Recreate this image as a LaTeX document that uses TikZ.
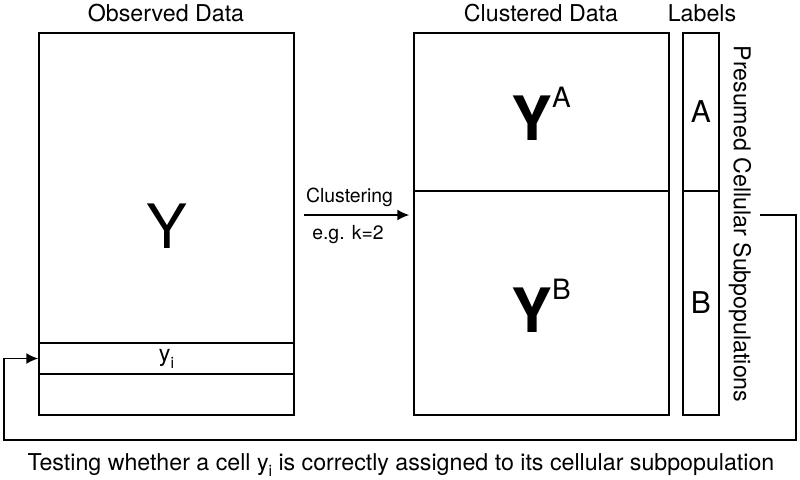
\documentclass[tikz,border=0pt]{standalone}
\usepackage{fontspec}
\setmainfont{TeX Gyre Heros}
\usetikzlibrary{arrows.meta}
\newcommand{\Ysup}[1]{{\bfseries Y}\raisebox{16.5pt}{\fontsize{14}{14}\selectfont #1}}
\newcommand{\lowsub}[1]{\raisebox{-0.3em}{\scalebox{0.68}{#1}}}

\begin{document}
\begin{tikzpicture}[x=0.5pt, y=-0.5pt, font=\fontsize{11.6}{13.9}\selectfont]
%% one unit is one pixel of the 800x479 drawing, y runs downwards
\tikzstyle{arc}=[-{Latex[length=6pt,width=5.5pt]},line width=0.75pt]
\tikzstyle{dataBox}=[draw,line width=0.75pt,inner sep=0pt,minimum width=127.5pt]
\tikzstyle{labelBox}=[draw,line width=0.75pt,inner sep=0pt,minimum width=18pt,font=\fontsize{15}{15}\selectfont]
\tikzstyle{bigY}=[font=\fontsize{30.6}{30.6}\selectfont]
\useasboundingbox (0,0) rectangle (800,479);
%% headings
\node[anchor=base] at (166,21) (obsTitle) {Observed Data};
\node[anchor=base] at (541,21) (clusTitle) {Clustered Data};
\node[anchor=base] at (702,21) (labTitle) {Labels};
%% observed data
\node[dataBox, minimum height=191pt] at (166.5,224) (obs) {};
\node[dataBox, minimum height=15.5pt] at (166.5,358.5) (yi) {y\lowsub{i}};
\node[bigY] at (166.5,226) (Y) {Y};
%% clustered data
\node[dataBox, minimum height=191pt] at (541.5,224) (clus) {};
\draw[line width=1pt] (clus.west |- 0,191) -- (clus.east |- 0,191);
\node[bigY, anchor=base] at (541,140) (YA) {\Ysup{A}};
\node[bigY, anchor=base] at (541,332) (YB) {\Ysup{B}};
%% labels
\node[labelBox, minimum height=79pt] at (701,112) (labA) {A};
\node[labelBox, minimum height=112pt] at (701,303) (labB) {B};
\node[rotate=-90] at (740,224) (presumed) {Presumed Cellular Subpopulations};
%% clustering step
\draw[arc] ([xshift=4.5pt,yshift=4.5pt]obs.east) -- ([xshift=-2pt,yshift=4.5pt]clus.west);
\node[font=\fontsize{9.7}{11}\selectfont] at (349.5,197) (clustering) {Clustering};
\node[font=\fontsize{9.7}{11}\selectfont] at (348,235) (kValue) {e.g. k=2};
%% feedback to the single cell
\coordinate (fbStart) at (760,215);
\coordinate (fbCorner) at (796,440);
\coordinate (fbLeft) at (4,440);
\draw[arc] (fbStart) -| (fbCorner) -- (fbLeft) |- (yi.west);
\node[anchor=base] at (401,470) (caption) {Testing whether a cell y\lowsub{i} is correctly assigned to its cellular subpopulation};
\end{tikzpicture}
\end{document}
